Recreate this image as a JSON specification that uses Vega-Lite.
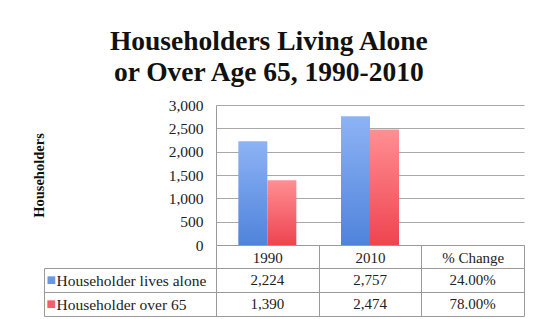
{
  "$schema": "https://vega.github.io/schema/vega-lite/v6.json",
  "padding": {"left": 31, "top": 27, "right": 5, "bottom": 0},
  "background": "white",
  "title": {
    "text": ["Householders Living Alone", "or Over Age 65, 1990-2010"],
    "font": "Liberation Serif",
    "fontSize": 27.5,
    "fontWeight": "bold",
    "lineHeight": 31,
    "color": "#111",
    "anchor": "middle",
    "frame": "bounds",
    "dx": -9,
    "offset": 12
  },
  "data": {
    "values": [
      {"series": "Householder lives alone", "col": "1990", "value": 2224},
      {"series": "Householder lives alone", "col": "2010", "value": 2757},
      {"series": "Householder lives alone", "col": "% Change", "value": 0.24},
      {"series": "Householder over 65", "col": "1990", "value": 1390},
      {"series": "Householder over 65", "col": "2010", "value": 2474},
      {"series": "Householder over 65", "col": "% Change", "value": 0.78}
    ]
  },
  "spacing": 23,
  "bounds": "flush",
  "vconcat": [
    {
      "width": 308,
      "height": 140,
      "transform": [{"filter": "datum.col !== '% Change'"}],
      "mark": {"type": "bar"},
      "encoding": {
        "x": {
          "field": "col",
          "type": "nominal",
          "sort": null,
          "scale": {"domain": ["1990", "2010", "% Change"], "paddingInner": 0, "paddingOuter": 0},
          "axis": {
            "title": null,
            "labelAngle": 0,
            "tickBand": "extent",
            "ticks": true,
            "tickSize": 23,
            "tickColor": "#9a9a9a",
            "domain": true,
            "domainColor": "#9a9a9a",
            "labelBaseline": "middle",
            "labelPadding": -11,
            "labelFont": "Liberation Serif",
            "labelFontSize": 15,
            "labelColor": "#222",
            "grid": false
          }
        },
        "xOffset": {
          "field": "series",
          "type": "nominal",
          "scale": {"paddingOuter": 0.77, "paddingInner": 0}
        },
        "y": {
          "field": "value",
          "type": "quantitative",
          "scale": {"domain": [0, 3000]},
          "axis": {
            "title": "Householders",
            "titleFont": "Liberation Serif",
            "titleFontSize": 14.5,
            "titleFontWeight": "bold",
            "titleColor": "#111",
            "titlePadding": 122,
            "values": [0, 500, 1000, 1500, 2000, 2500, 3000],
            "format": ",d",
            "ticks": false,
            "labelPadding": 13,
            "labelFont": "Liberation Serif",
            "labelFontSize": 15.5,
            "labelColor": "#222",
            "domain": true,
            "domainColor": "#9a9a9a",
            "grid": true,
            "gridColor": "#a8a8a8"
          }
        },
        "color": {
          "condition": {
            "test": "datum.series === 'Householder over 65'",
            "value": {"gradient": "linear", "x1": 0, "y1": 0, "x2": 0, "y2": 1, "stops": [{"offset": 0, "color": "#ff8f92"}, {"offset": 1, "color": "#ee4450"}]}
          },
          "value": {"gradient": "linear", "x1": 0, "y1": 0, "x2": 0, "y2": 1, "stops": [{"offset": 0, "color": "#8db3f5"}, {"offset": 1, "color": "#4f83db"}]}
        }
      }
    },
    {
      "width": 308,
      "height": 48,
      "encoding": {
        "x": {
          "field": "col",
          "type": "nominal",
          "sort": null,
          "scale": {"domain": ["1990", "2010", "% Change"], "paddingInner": 0, "paddingOuter": 0}
        },
        "y": {
          "field": "series",
          "type": "nominal",
          "scale": {"domain": ["Householder lives alone", "Householder over 65"], "paddingInner": 0, "paddingOuter": 0}
        }
      },
      "layer": [
        {
          "transform": [{"filter": "datum.col !== '% Change'"}],
          "mark": {"type": "text", "font": "Liberation Serif", "fontSize": 15, "color": "#222", "baseline": "middle"},
          "encoding": {
            "text": {"field": "value", "type": "quantitative", "format": ","},
            "x": {
              "field": "col",
              "type": "nominal",
              "sort": null,
              "scale": {"domain": ["1990", "2010", "% Change"], "paddingInner": 0, "paddingOuter": 0},
              "axis": {
                "title": null,
                "labels": false,
                "ticks": false,
                "domain": false,
                "grid": true,
                "tickBand": "extent",
                "gridColor": "#9a9a9a"
              }
            },
            "y": {
              "field": "series",
              "type": "nominal",
              "scale": {"domain": ["Householder lives alone", "Householder over 65"], "paddingInner": 0, "paddingOuter": 0},
              "axis": {
                "title": null,
                "orient": "left",
                "tickBand": "extent",
                "ticks": true,
                "tickSize": 172,
                "tickColor": "#9a9a9a",
                "grid": true,
                "gridColor": "#9a9a9a",
                "domain": true,
                "domainColor": "#9a9a9a",
                "labelAlign": "left",
                "labelBaseline": "middle",
                "labelPadding": -12,
                "labelFont": "Liberation Serif",
                "labelFontSize": 15.5,
                "labelColor": "#222",
                "labelLimit": 200
              }
            }
          }
        },
        {
          "transform": [{"filter": "datum.col === '% Change'"}],
          "mark": {"type": "text", "font": "Liberation Serif", "fontSize": 15, "color": "#222", "baseline": "middle"},
          "encoding": {
            "text": {"field": "value", "type": "quantitative", "format": ".2%"},
            "x": {
              "field": "col",
              "type": "nominal",
              "sort": null,
              "scale": {"domain": ["1990", "2010", "% Change"], "paddingInner": 0, "paddingOuter": 0},
              "axis": null
            },
            "y": {
              "field": "series",
              "type": "nominal",
              "scale": {"domain": ["Householder lives alone", "Householder over 65"], "paddingInner": 0, "paddingOuter": 0},
              "axis": {
                "title": null,
                "orient": "left",
                "offset": 172,
                "ticks": false,
                "tickSize": 0,
                "grid": false,
                "domain": true,
                "domainColor": "#9a9a9a",
                "labelExpr": "'■'",
                "labelAlign": "left",
                "labelBaseline": "middle",
                "labelPadding": -2,
                "labelFont": "DejaVu Sans",
                "labelFontSize": 10,
                "labelColor": {"condition": {"test": "datum.value === 'Householder over 65'", "value": "#f0606a"}, "value": "#6798e6"}
              }
            }
          }
        }
      ],
      "resolve": {"axis": {"x": "independent", "y": "independent"}}
    }
  ],
  "config": {
    "view": {"stroke": null}
  }
}
